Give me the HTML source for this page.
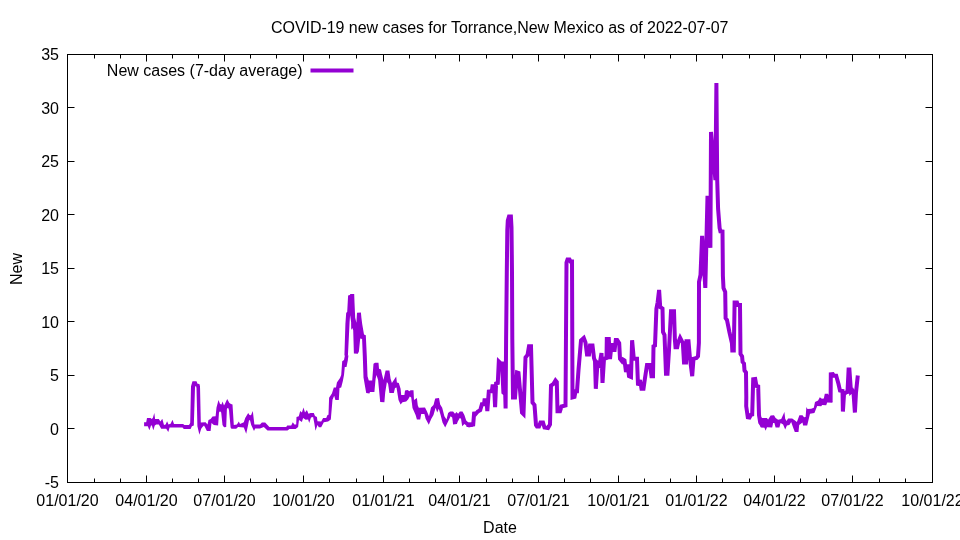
<!DOCTYPE html>
<html lang="en"><head><meta charset="utf-8"><title>COVID-19 new cases for Torrance,New Mexico</title>
<style>html,body{margin:0;padding:0;background:#fff;overflow:hidden}svg{display:block;will-change:transform}text{font-family:"Liberation Sans",sans-serif;font-size:16px;fill:#000}</style></head><body>
<svg width="960" height="540" viewBox="0 0 960 540">
<path d="M67.5 482.5v-7M67.5 54.5v7M94.5 482.5v-4M94.5 54.5v4M120.5 482.5v-4M120.5 54.5v4M146.5 482.5v-7M146.5 54.5v7M172.5 482.5v-4M172.5 54.5v4M198.5 482.5v-4M198.5 54.5v4M224.5 482.5v-7M224.5 54.5v7M250.5 482.5v-4M250.5 54.5v4M276.5 482.5v-4M276.5 54.5v4M303.5 482.5v-7M303.5 54.5v7M329.5 482.5v-4M329.5 54.5v4M356.5 482.5v-4M356.5 54.5v4M383.5 482.5v-7M383.5 54.5v7M409.5 482.5v-4M409.5 54.5v4M435.5 482.5v-4M435.5 54.5v4M459.5 482.5v-7M459.5 54.5v7M486.5 482.5v-4M486.5 54.5v4M512.5 482.5v-4M512.5 54.5v4M538.5 482.5v-7M538.5 54.5v7M564.5 482.5v-4M564.5 54.5v4M590.5 482.5v-4M590.5 54.5v4M618.5 482.5v-7M618.5 54.5v7M644.5 482.5v-4M644.5 54.5v4M670.5 482.5v-4M670.5 54.5v4M696.5 482.5v-7M696.5 54.5v7M722.5 482.5v-4M722.5 54.5v4M749.5 482.5v-4M749.5 54.5v4M774.5 482.5v-7M774.5 54.5v7M800.5 482.5v-4M800.5 54.5v4M826.5 482.5v-4M826.5 54.5v4M852.5 482.5v-7M852.5 54.5v7M879.5 482.5v-4M879.5 54.5v4M905.5 482.5v-4M905.5 54.5v4M932.5 482.5v-7M932.5 54.5v7M67.5 482.5h7M932.5 482.5h-7M67.5 428.5h7M932.5 428.5h-7M67.5 375.5h7M932.5 375.5h-7M67.5 321.5h7M932.5 321.5h-7M67.5 268.5h7M932.5 268.5h-7M67.5 214.5h7M932.5 214.5h-7M67.5 161.5h7M932.5 161.5h-7M67.5 107.5h7M932.5 107.5h-7M67.5 54.5h7M932.5 54.5h-7" stroke="#000" stroke-width="1" fill="none"/>
<rect x="67.5" y="54.5" width="865.0" height="428.0" fill="none" stroke="#000" stroke-width="1" shape-rendering="crispEdges"/>
<text x="59" y="488.0" text-anchor="end">-5</text>
<text x="59" y="434.5" text-anchor="end">0</text>
<text x="59" y="381.0" text-anchor="end">5</text>
<text x="59" y="327.5" text-anchor="end">10</text>
<text x="59" y="274.0" text-anchor="end">15</text>
<text x="59" y="220.5" text-anchor="end">20</text>
<text x="59" y="167.0" text-anchor="end">25</text>
<text x="59" y="113.5" text-anchor="end">30</text>
<text x="59" y="60.0" text-anchor="end">35</text>
<text x="67.5" y="506" text-anchor="middle">01/01/20</text>
<text x="146.5" y="506" text-anchor="middle">04/01/20</text>
<text x="224.5" y="506" text-anchor="middle">07/01/20</text>
<text x="303.5" y="506" text-anchor="middle">10/01/20</text>
<text x="383.5" y="506" text-anchor="middle">01/01/21</text>
<text x="459.5" y="506" text-anchor="middle">04/01/21</text>
<text x="538.5" y="506" text-anchor="middle">07/01/21</text>
<text x="618.5" y="506" text-anchor="middle">10/01/21</text>
<text x="696.5" y="506" text-anchor="middle">01/01/22</text>
<text x="774.5" y="506" text-anchor="middle">04/01/22</text>
<text x="852.5" y="506" text-anchor="middle">07/01/22</text>
<text x="932.5" y="506" text-anchor="middle">10/01/22</text>
<text x="499.75" y="33" text-anchor="middle" textLength="457.4" lengthAdjust="spacing">COVID-19 new cases for Torrance,New Mexico as of 2022-07-07</text>
<text x="500" y="533" text-anchor="middle">Date</text>
<text transform="translate(22 269) rotate(-90)" text-anchor="middle">New</text>
<text x="302.5" y="76" text-anchor="end">New cases (7-day average)</text>
<path d="M310.5 70.5H353.5" stroke="#9400d3" stroke-width="4" fill="none"/>
<path d="M144.1 422.2L146.2 422.2L147 417.9L150.6 417.9L151.6 419L152.8 418.1L154.3 412.9L155.1 419L158.8 419L160.4 421.5L162.3 418.8L164 425L165.6 424.4L167.1 421.2L168.5 424.4L170.6 423.8L172.5 419.8L174 424L183.1 424L184.4 425L189 425L190.2 423.1L191 386.2L192.5 381.2L196.5 381.2L197.5 383.8L199.4 384.1L200 386.2L200.8 422.5L205.6 422.2L207.5 424.4L208.5 420L210.6 419L212.5 416.5L215.6 416.2L216.5 407.5L218.5 400L220 404L221.5 404.4L222.5 401.5L224 405.6L225 403.8L227.2 399.1L229.4 403.1L231 404L232.5 404.4L233.8 425L236.9 424.4L238.8 421.5L240 424L243.8 422.2L245.2 418.1L248.2 412.9L249.5 415L251 415.2L252.8 410.9L254.4 424.4L255 424.4L260 424.4L260 428.5L255.2 428.5L254 430.9L251.2 425L250 420.2L249 420.2L248.1 425L246.2 433.8L243.8 427.5L238.1 426.9L236.2 428.8L231.5 428.8L230.6 427.5L229 410L228.1 407.8L226.9 408.8L226.2 426.9L224 427.2L222.5 425L221.2 412.5L220 411.2L219 412.5L218.1 425.6L213.8 425L211.5 423.1L210.6 430.9L206.9 430.9L205 427.2L204 425.6L202.5 426.9L201.2 428.8L199.4 434.8L197.4 426.2L196.5 388.1L196.1 386.2L195.5 386L195 387.5L193.8 425.6L191.9 426.2L190.6 429L183.8 429L182.5 427.5L169.6 427.5L168.3 431.9L166.2 428.8L161.2 428.8L158.8 424.4L156.2 424.4L154.8 425.6L153.3 430.2L151.9 425.6L151 425.6L149.4 430.2L147.8 426.2L144.1 426.2Z" fill="#9400d3" stroke="none"/>
<path d="M260 424.4L261.9 422.5L265.2 422.5L269.4 427L286.2 427L287.2 425.4L291.2 425.4L292.8 422.2L294.4 424.4L296.2 424.4L296.5 416.9L298.8 416.2L300.2 411L301.9 412.5L303.5 407.5L305 412.5L306.9 410L308.5 413.8L310.6 413.1L313.8 413.1L315 416L316.9 416.9L317.5 421.2L321.2 421.5L323.1 418.1L326.2 418.1L327.5 415L328.5 414.8L329.1 397.8L331.9 393.5L333.8 387.5L336 387.5L336.9 382.5L340 378.1L341.2 375L342.2 361.2L344 360L345 355L344.4 356L345.4 324L346.2 312.8L347.2 312L348.1 295.4L349.8 295L350.4 293.9L354.2 293.9L354.5 302.6L355.2 317.8L356.4 322.8L357 312.8L360.9 312.4L361.4 317.8L362.2 324L364 334.6L365.8 335.2L366.8 356L367.5 376.2L368.8 380.6L372.2 380.6L373.5 363.8L375 362.8L378.5 362.8L379 368.8L381 369.4L381.9 373.8L383.5 380L385.6 370.6L389.4 370.6L390.6 378.8L391.9 383.1L396.2 376.5L396.9 382.5L398.8 383.1L400.6 388.8L401.2 395L404.4 395L405 390.6L407.5 390L409.4 391.2L410.6 390.2L413.5 390.2L414 400L416.9 398.1L417.8 405.6L418.8 407.8L425 407.5L426.9 411.2L429 416.2L431 407.5L433.5 405L435.2 398.5L439 398.1L440.2 404.4L442.2 407.8L444.4 416.2L446.5 419.4L448.1 413.1L450 411.5L453.1 411.5L455 413.8L456.5 411.9L458.1 413.8L459.8 411.5L462.5 411.5L464.4 415L466.2 420.6L468.1 422.2L473.1 422.5L473.1 426.5L468.8 427.5L464.4 424L462.2 426.2L461 418.8L459.8 418.1L457.8 421.5L456.9 424L453.1 424.4L452.2 417.5L450.6 416.2L448.1 421.5L445.2 427.5L442.5 422.5L440.6 415L438.8 408.8L437.2 412.5L435.6 407.8L433.5 415L431.2 419L428.8 424.8L425.6 418.8L424.4 414L421.2 414L420.2 419.4L416.9 419.4L415.6 415L412.5 408.1L411.2 397.5L409.8 396.5L408.1 399.4L406.2 401.5L402.5 402.2L400.6 404.4L398.5 400L396.5 387.5L395 388.1L393.8 393.1L389.4 393.1L388.1 383.8L386.9 381.9L385.2 392.5L384.4 402.2L380.2 401.9L378.1 380L376.5 375L375.6 378.8L374.4 391.9L370 391.9L369.4 393.5L366.2 393.1L363.5 377.5L362.8 356L362.1 339L360.2 338.4L358.9 351.6L357.8 353.8L353.9 353.5L353.2 330.2L352.2 328L351.2 329.9L351.1 322L350.1 315.2L349.6 322L347.9 356L348.5 355L347.8 360.6L346.5 366.9L344.8 366.9L344 375L342.8 381.2L341.2 387.5L339.5 388.1L338.8 399.9L335.4 399.9L334.2 395.8L332.5 399.8L330.8 419.5L328.1 421.5L323.8 422.2L321.2 427.2L318.8 427.2L317.5 425L315.5 430.8L314.4 423.8L313.1 416.9L311 417.5L309.2 423L308.1 419.4L305.6 419.8L303.1 418.1L301.9 422.1L299 420L298.1 426.9L295.6 429L289.4 429L287.5 430.6L267.5 430.6L263.8 426.9L260 428.5Z" fill="#9400d3" stroke="none"/>
<path d="M466.5 425L470 425L473.2 424.5L474.2 412L475.2 414.5L477.8 411.5L480.2 410.2L481.9 404.2L484 404.2L484.5 400.2L486.5 400.2L487.3 411L488.8 391.5L491.8 391.2L492.5 386.2L494.1 386.2L495.1 407.2L496.1 383.5L497.8 383L498.8 361.5L500.8 363.5L502 363.5L503.4 392.5L505.2 394L505.6 408.5L506.1 339L506.8 272L507.3 230L507.8 220.5L509 216.4L510.9 216.4L511.5 227.5L512 272L512.3 339L513 397.5L515 397.5L517 372.5L518.5 373L522 412.5L523.5 414L525.5 357.5L527.5 355L529 346.2L531 346.2L532.5 402.5L534.5 405L536 425L537 426.5L539 426.5L540.5 422.5L543 422.5L544.5 427.5L548 428L550 424.5L551 385.5L553.5 383.8L555.5 380.5L556.8 382L557.5 411.2L560 411.2L561.5 406.5L565.5 405.5L566.5 262.5L567.5 259.5L569.5 259.5L570.5 261.5L572 261.5L572.5 397.5L574.5 397L575.5 391.2L577 391.2L578.5 370L581 340.5L583.8 338L585.5 342.5L587 354.5L589 354.5L590 345.5L592.5 345.5L594 358L595 361.2L595.8 388.8L597.5 363L599.5 365L601.5 353L602.5 383L604 358.8L606.5 358L606.8 338.9L608.8 338.9L610 359L611.5 345.1L613.5 345.1L614.4 351.8L615.8 340.1L617.2 340.1L619.2 343.2L620 358.8L622 361.2L623 359.5L624.5 360.5L626 372L627.5 364.5L629 376.2L631 377L632.1 340.2L633.8 358.8L637 358.8L638 385.5L640 380L641.5 388.8L643.5 388.8L645 378L647 365L650 365L651.5 376.2L653 376.2L653.5 346.2L655 345.5L656.4 308.8L657.6 302.5L659.1 290L660.2 307L662.5 308.5L663 332L664.5 335L666 373.8L667.5 373.8L669 350L671 311.2L674 311.2L674.9 340L675.5 347.2L677.2 347.2L678.2 342.5L680.1 337.8L682 341.5L682.8 342.5L684 362.5L686 362.5L686.5 341.2L688.5 341.2L690 358.8L692.2 376.2L693.5 358.8L696.5 358L698 356.2L698.9 343L699 282L700.5 275L702.1 235.9L705.3 287.9L707.5 195.8L710.4 247.8L711 131.9L715.4 180.1L716.4 83.1L717.2 180L718.1 209L719.6 228L720.4 231.3L722.5 231.5L722.9 276L723.5 288L725.2 292L725.6 318L727 320L729.4 332L731.9 343L732.3 350.5L733.8 350.5L734.6 302.4L737 302.4L737.8 305L740 305L740.5 354L742.1 356.5L742.6 362L744 363.5L744.5 370.5L746 372.5L746.3 397L746.2 406.2L747.8 417.2L749.5 417.5L751 414.8L752.2 414.5L753.2 379.2L755.2 379L756.5 386L758.2 386.5L759 415L760.2 422.5L761.9 425L763.8 425" stroke="#9400d3" stroke-width="4" fill="none" stroke-linejoin="miter" stroke-miterlimit="3.8" stroke-linecap="butt"/>
<path d="M760.6 416.2L761.9 418.1L766.9 418.1L768.1 419.4L770.6 415.6L774 415.2L775.6 418.1L778.1 419.8L781.2 419L784.4 412L785.2 418.8L786.5 421L788.1 418.5L792.2 418.5L795 420.6L796.9 421.9L799.4 415.2L802.5 415.2L804 417.2L805.6 416.9L806.4 407L807.5 409L811.2 408.8L813.8 407.8L815 401.9L818.1 400.6L819.8 397.2L821.9 398.8L823.8 398.5L824.8 393.8L828.1 393.8L829 395.2L830.5 395.2L832.5 402.8L827.2 402.5L826.2 405.2L822.2 405L821.2 406.2L817.2 406L815.6 410L814.4 413.1L810 413.8L808.5 420L807.2 425.4L803.1 425.4L802.5 422.5L799.2 425L798.5 432L794.8 432L793.1 427.5L791.2 421.9L789.4 425L786.9 425.6L785.2 429.6L783.1 424.4L780.6 423.1L779.4 427.5L775.6 427.5L774.4 423.1L773.1 423.1L772.2 427.5L767 427.2L765.6 430.8L764.5 427.8L760.8 427.5L759.8 424.4Z" fill="#9400d3" stroke="none"/>
<path d="M830.6 401.9L830.8 374.2L832.8 374L834 375.8L836.2 375.8L838.5 384L840 390.6L842.5 391L842.9 411.5L844 394.4L846.2 392.2L847.5 391.9L848.6 369.5L849.4 369.5L851 391.9L852.5 390.6L853.5 392.5L854.9 412.5L856 392.5L857.8 375.5" stroke="#9400d3" stroke-width="4" fill="none" stroke-linejoin="miter" stroke-miterlimit="3.8" stroke-linecap="butt"/>
</svg></body></html>
